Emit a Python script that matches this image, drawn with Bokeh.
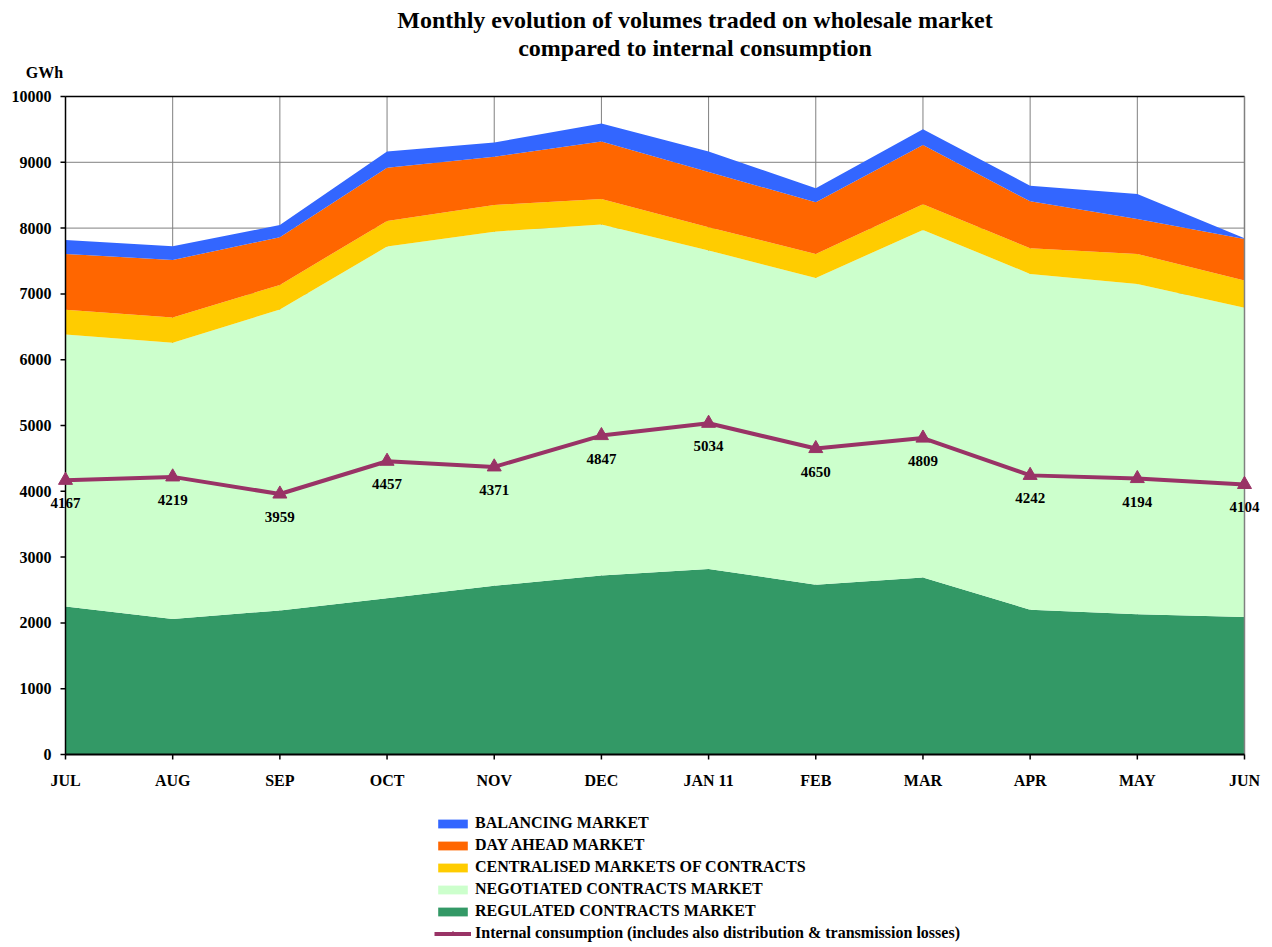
import math
from bokeh.plotting import figure
from bokeh.models import ColumnDataSource, Legend, LegendItem, Range1d
from bokeh.core.properties import value
from bokeh.embed import file_html
from bokeh.resources import INLINE

months = ["JUL", "AUG", "SEP", "OCT", "NOV", "DEC", "JAN 11", "FEB", "MAR", "APR", "MAY", "JUN"]
regulated = [2250, 2060, 2190, 2375, 2565, 2720, 2820, 2580, 2690, 2200, 2130, 2090]
negotiated = [4133, 4197, 4573, 5344, 5381, 5333, 4840, 4663, 5282, 5104, 5022, 4698]
centralised = [375, 384, 374, 390, 405, 389, 352, 364, 389, 390, 455, 415]
day_ahead = [850, 875, 723, 809, 733, 875, 842, 784, 901, 713, 532, 632]
balancing = [212, 208, 187, 247, 218, 273, 311, 213, 242, 237, 379, 10]
consumption = [4167, 4219, 3959, 4457, 4371, 4847, 5034, 4650, 4809, 4242, 4194, 4104]
y_ticks = [0, 1000, 2000, 3000, 4000, 5000, 6000, 7000, 8000, 9000, 10000]

series_names = ["REGULATED CONTRACTS MARKET", "NEGOTIATED CONTRACTS MARKET",
                "CENTRALISED MARKETS OF CONTRACTS", "DAY AHEAD MARKET", "BALANCING MARKET"]
series_colors = ["#339966", "#CCFFCC", "#FFCC00", "#FF6600", "#3366FF"]
line_name = "Internal consumption (includes also distribution & transmission losses)"
title_lines = ["Monthly evolution of volumes traded on wholesale market",
               "compared to internal consumption"]
unit = "GWh"

FONT = "Liberation Serif"
xs = list(range(len(months)))
x_first, x_last = xs[0], xs[-1]
y_min, y_max = y_ticks[0], y_ticks[-1]
x_mid = (x_first + x_last) / 2
nx, ny = len(xs), len(y_ticks)

src = ColumnDataSource(dict(
    x=xs, reg=regulated, neg=negotiated, cen=centralised, day=day_ahead, bal=balancing,
    cons=consumption, lbl=[str(v) for v in consumption],
))

# the frame covers the whole canvas; the plot area (JUL..JUN, 0..10000) sits inside it,
# so that titles, axis texts, edge labels and the legend are never clipped
p = figure(width=1270, height=945, output_backend="svg", toolbar_location=None,
           x_range=Range1d(-0.6065, 11.2426), y_range=Range1d(-2902.7, 11458.9),
           x_axis_location=None, y_axis_location=None)
p.min_border = 0
p.outline_line_color = None
p.background_fill_color = "white"
p.border_fill_color = "white"
p.grid.visible = False

# grid lines limited to the plot area
p.segment(x0=xs, y0=[y_min] * nx, x1=xs, y1=[y_max] * nx,
          line_color="#808080", line_width=1)
p.segment(x0=[x_first] * ny, y0=y_ticks, x1=[x_last] * ny, y1=y_ticks,
          line_color="#808080", line_width=1)

areas = p.varea_stack(stackers=["reg", "neg", "cen", "day", "bal"], x="x",
                      color=series_colors, source=src)

# plot area border and axis lines
p.segment(x0=[x_first, x_first, x_last, x_first], y0=[y_min, y_max, y_min, y_min],
          x1=[x_first, x_last, x_last, x_last], y1=[y_max, y_max, y_max, y_min],
          line_color=["black", "black", "#808080", "black"], line_width=[1.5, 1.5, 1.5, 2])

ln = p.line("x", "cons", source=src, line_color="#993366", line_width=4)
mk = p.scatter("x", "cons", source=src, marker="triangle", size=14,
               fill_color="#993366", line_color="#993366")
p.text("x", "cons", text="lbl", source=src, text_align="center", text_baseline="middle",
       y_offset=23, text_font=value(FONT), text_font_style="bold", text_font_size="15px",
       text_color="black")

txt = dict(text_font=value(FONT), text_font_style="bold", text_color="black")

# y axis
p.ray(x=[x_first] * ny, y=y_ticks, length=5, length_units="screen",
      angle=math.pi, line_color="black", line_width=1.5)
p.text(x=[x_first] * ny, y=y_ticks, text=[str(t) for t in y_ticks],
       x_offset=-14, text_align="right", text_baseline="middle", text_font_size="16px", **txt)
p.text(x=[x_first], y=[y_max], text=[unit], x_offset=-21, y_offset=-24,
       text_align="center", text_baseline="middle", text_font_size="16px", **txt)

# x axis
p.ray(x=xs, y=[y_min] * nx, length=5, length_units="screen",
      angle=-math.pi / 2, line_color="black", line_width=1.5)
p.text(x=xs, y=[y_min] * nx, text=months, y_offset=26,
       text_align="center", text_baseline="middle", text_font_size="16px", **txt)

# title
p.text(x=[x_mid, x_mid], y=[y_max, y_max], text=title_lines, x_offset=40, y_offset=[-76, -48],
       text_align="center", text_baseline="middle", text_font_size="24px", **txt)

items = [LegendItem(label=series_names[i], renderers=[areas[i]]) for i in range(4, -1, -1)]
items.append(LegendItem(label=line_name, renderers=[ln, mk]))
legend = Legend(items=items, location=(434, 3), orientation="vertical")
legend.label_text_font = FONT
legend.label_text_font_style = "bold"
legend.label_text_font_size = "16px"
legend.label_text_color = "black"
legend.glyph_width = 37
legend.glyph_height = 11
legend.label_height = 18
legend.spacing = 4
legend.label_standoff = 4
legend.padding = 0
legend.margin = 0
legend.border_line_color = None
legend.background_fill_alpha = 0
p.add_layout(legend, "center")

open("out.html", "w").write(file_html(p, INLINE))
